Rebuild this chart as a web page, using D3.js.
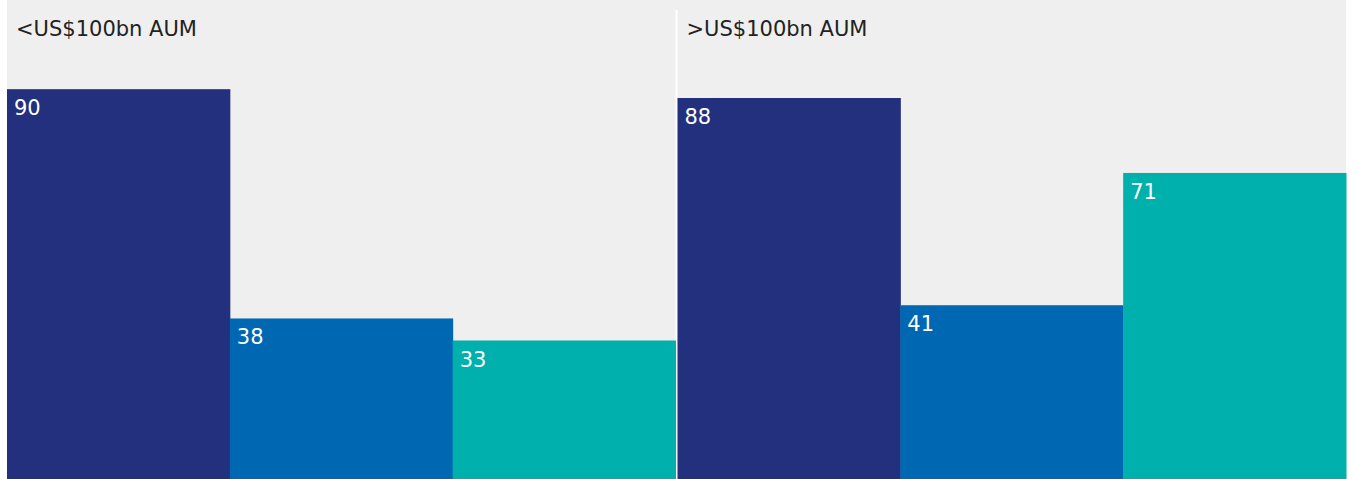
<!DOCTYPE html>
<html>
<head>
<meta charset="utf-8">
<script src="https://cdn.jsdelivr.net/npm/d3@7"></script>
<style>
  html, body { margin: 0; padding: 0; background: #fff; }
  svg { display: block; }
  text { font-family: "DejaVu Sans", Verdana, sans-serif; }
</style>
</head>
<body>
<svg id="chart"></svg>
<script>
// Data
const groups = ["<US$100bn AUM", ">US$100bn AUM"];
const series = ["s1", "s2", "s3"];
const values = [
  [90, 38, 33],
  [88, 41, 71]
];
const colors = ["#22307e", "#0068b3", "#00b0ac"];

const width = 1357, height = 479;
const svg = d3.select("#chart").attr("width", width).attr("height", height);

const left = 7, right = 1346;

// panels
const xGroup = d3.scaleBand()
  .domain(groups)
  .range([left, right])
  .paddingInner(2 / 670);

const xBar = d3.scaleBand()
  .domain(series)
  .range([0, xGroup.bandwidth()])
  .padding(0);

// baseline sits a little below the visible area
const y = d3.scaleLinear().domain([0, 110]).range([486, 1]);

// background
svg.append("rect")
  .attr("x", left).attr("y", 0)
  .attr("width", right - left).attr("height", height)
  .attr("fill", "#efefef");

// white divider between panels
svg.append("rect")
  .attr("x", xGroup(groups[0]) + xGroup.bandwidth())
  .attr("y", 10)
  .attr("width", xGroup(groups[1]) - xGroup(groups[0]) - xGroup.bandwidth())
  .attr("height", height - 10)
  .attr("fill", "#ffffff");

const panel = svg.selectAll("g.panel")
  .data(groups.map((g, i) => ({group: g, vals: values[i]})))
  .join("g")
  .attr("class", "panel")
  .attr("transform", d => `translate(${xGroup(d.group)},0)`);

panel.append("text")
  .attr("x", 9)
  .attr("y", 36)
  .attr("font-size", 21)
  .attr("fill", "#222")
  .text(d => d.group);

const bar = panel.selectAll("g.bar")
  .data(d => d.vals.map((v, j) => ({key: series[j], value: v, color: colors[j]})))
  .join("g")
  .attr("class", "bar");

bar.append("rect")
  .attr("x", d => xBar(d.key))
  .attr("y", d => y(d.value))
  .attr("width", xBar.bandwidth() + 0.5)
  .attr("height", d => y(0) - y(d.value))
  .attr("fill", d => d.color);

bar.append("text")
  .attr("x", d => xBar(d.key) + 7)
  .attr("y", d => y(d.value) + 26)
  .attr("font-size", 21)
  .attr("fill", "#ffffff")
  .text(d => d.value);
</script>
</body>
</html>
